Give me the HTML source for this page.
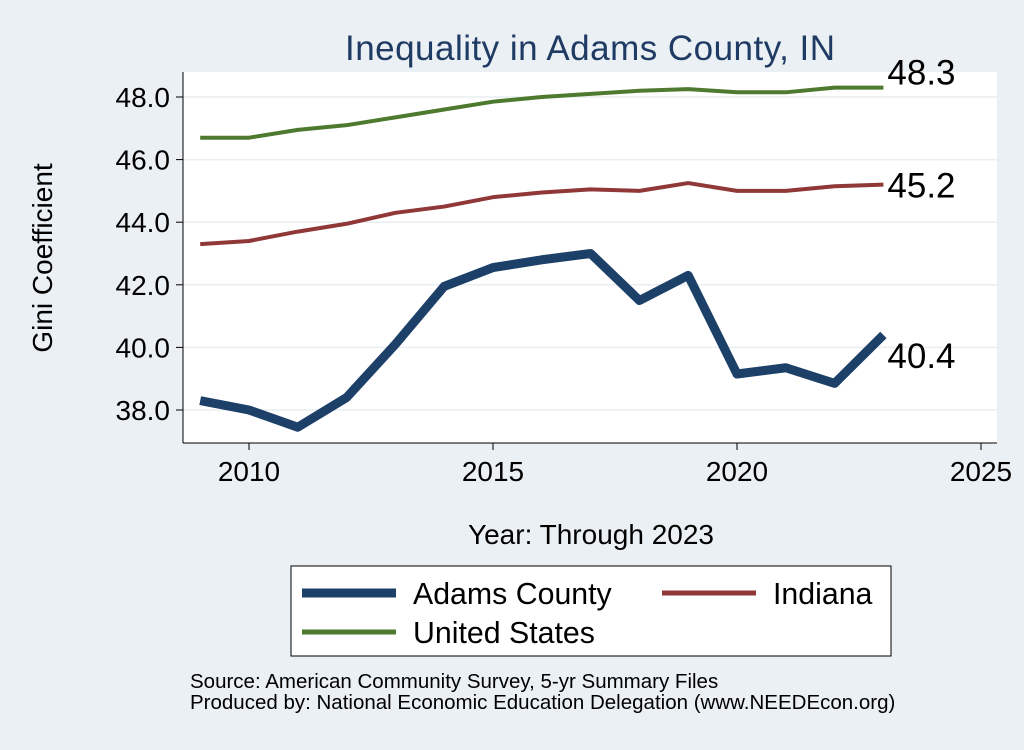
<!DOCTYPE html>
<html><head><meta charset="utf-8"><style>
body{margin:0;background:#eaf0f4;font-family:"Liberation Sans",sans-serif}
svg text{font-family:"Liberation Sans",sans-serif}
</style></head><body>
<svg id="c" width="1024" height="745">
<rect x="0" y="0" width="1024" height="745" fill="#eaf0f4"/>
<rect x="183" y="72" width="814" height="371" fill="#fff"/>
<text x="590" y="60" font-size="35" fill="#1f3a63" text-anchor="middle" textLength="490">Inequality in Adams County, IN</text>
<text x="52" y="258" font-size="28" text-anchor="middle" transform="rotate(-90 52 258)">Gini Coefficient</text>
<text x="591" y="544" font-size="28" text-anchor="middle">Year: Through 2023</text>
<g id="grid"></g><g id="axes"></g><g id="series"></g>
<g>
<rect x="291" y="566" width="600" height="90" fill="#fff" stroke="#000" stroke-width="1"/>
<line x1="302" y1="593" x2="396" y2="593" stroke="#1c4068" stroke-width="9"/>
<text x="413" y="604" font-size="30.3">Adams County</text>
<line x1="662" y1="593" x2="756" y2="593" stroke="#903838" stroke-width="5"/>
<text x="773" y="604" font-size="30.3">Indiana</text>
<line x1="302" y1="632" x2="396" y2="632" stroke="#4d7a2e" stroke-width="5"/>
<text x="413" y="643" font-size="30.3">United States</text>
</g>
<text x="190" y="688" font-size="20.5">Source: American Community Survey, 5-yr Summary Files</text>
<text x="190" y="709" font-size="20.5">Produced by: National Economic Education Delegation (www.NEEDEcon.org)</text>
</svg>
<script>
const years=[2009,2010,2011,2012,2013,2014,2015,2016,2017,2018,2019,2020,2021,2022,2023];
const adams=[38.3,38.0,37.45,38.4,40.1,41.95,42.55,42.8,43.0,41.5,42.3,39.15,39.35,38.85,40.4];
const indiana=[43.3,43.4,43.7,43.95,44.3,44.5,44.8,44.95,45.05,45.0,45.25,45.0,45.0,45.15,45.2];
const us=[46.7,46.7,46.95,47.1,47.35,47.6,47.85,48.0,48.1,48.2,48.25,48.15,48.15,48.3,48.3];
const yTicks=[38,40,42,44,46,48];
const xTicks=[2010,2015,2020,2025];
const NS='http://www.w3.org/2000/svg';
const xs=v=>249+(v-2010)*48.8;
const ys=v=>410-(v-38)*31.3;
function mk(t,a,p){const e=document.createElementNS(NS,t);for(const k in a)e.setAttribute(k,a[k]);p.appendChild(e);return e;}
const grid=document.getElementById('grid'),axes=document.getElementById('axes'),ser=document.getElementById('series');
mk('line',{x1:183,y1:72,x2:183,y2:443,stroke:'#000','stroke-width':1},axes);
mk('line',{x1:183,y1:443,x2:997,y2:443,stroke:'#000','stroke-width':1},axes);
yTicks.forEach(v=>{
 const g=mk('line',{x1:183,y1:ys(v),x2:997,y2:ys(v),stroke:'#e8eef2','stroke-width':1.5},grid);
 
 
 mk('line',{x1:176,y1:ys(v),x2:183,y2:ys(v),stroke:'#000'},axes);
 const t=mk('text',{x:170,y:ys(v)+10,'font-size':28,'text-anchor':'end'},axes);t.textContent=v.toFixed(1);
 
 
});
xTicks.forEach(v=>{
 mk('line',{x1:xs(v),y1:443,x2:xs(v),y2:450,stroke:'#000'},axes);
 const t=mk('text',{x:xs(v),y:481,'font-size':28,'text-anchor':'middle'},axes);t.textContent=v;
 
 
});
function line(d,col,w,name,lx,ly){
 const p=mk('polyline',{points:years.map((y,i)=>xs(y)+','+ys(d[i])).join(' '),fill:'none',stroke:col,'stroke-width':w,'stroke-linejoin':'round'},ser);
 
 
 const last=d[d.length-1];
 const t=mk('text',{x:xs(2023)+4,y:ys(last)+ly,'font-size':35},ser);t.textContent=last.toFixed(1);
 
 
}
line(us,'#4d7a2e',4,'us',0,-3);
line(indiana,'#903838',4,'indiana',0,13);
line(adams,'#1c4068',9,'adams',0,33);
</script>
</body></html>
